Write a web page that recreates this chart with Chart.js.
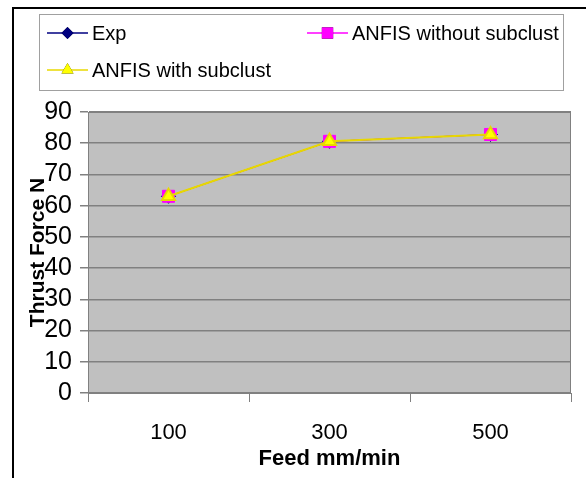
<!DOCTYPE html>
<html>
<head>
<meta charset="utf-8">
<script src="https://cdn.jsdelivr.net/npm/chart.js@4.4.0/dist/chart.umd.min.js"></script>
<style>
    html, body { margin: 0; padding: 0; background: #ffffff; }
    #wrap { width: 586px; height: 478px; position: relative; }
</style>
</head>
<body>
<div id="wrap"><canvas id="thrustChart"></canvas></div>
<script>
const feeds = ["100", "300", "500"];
const expValues = [63, 80.6, 82.8];
const anfisWithout = [63, 80.6, 82.8];
const anfisWith = [63, 80.6, 82.8];
const yTicks = [0, 10, 20, 30, 40, 50, 60, 70, 80, 90];

const FONT = "'Liberation Sans', Arial, sans-serif";

// Plot background, frame and the boxed legend
const framePlugin = {
    id: "frame",
    beforeDraw(chart) {
        const { ctx, chartArea: a } = chart;
        ctx.save();
        ctx.fillStyle = "#c0c0c0";
        ctx.fillRect(a.left, a.top, a.right - a.left, a.bottom - a.top);
        ctx.restore();
    },
    afterDraw(chart) {
        const { ctx, chartArea: a } = chart;
        ctx.save();
        ctx.strokeStyle = "#808080";
        ctx.lineWidth = 1;
        ctx.strokeRect(a.left + 0.5, a.top + 0.5, a.right - a.left - 1, a.bottom - a.top);

        // outer border
        ctx.strokeStyle = "#000000";
        ctx.lineWidth = 2;
        ctx.beginPath();
        ctx.moveTo(13, 480);
        ctx.lineTo(13, 8);
        ctx.lineTo(590, 8);
        ctx.stroke();

        // legend box
        ctx.strokeStyle = "#a0a0a0";
        ctx.lineWidth = 1;
        ctx.strokeRect(39.5, 14.5, 524, 76);

        const spots = [
            { x: 47, y: 33 },
            { x: 307, y: 33 },
            { x: 47, y: 70 }
        ];
        chart.data.datasets.forEach((ds, i) => {
            const s = spots[i];
            ctx.strokeStyle = ds.borderColor;
            ctx.lineWidth = 1.5;
            ctx.beginPath();
            ctx.moveTo(s.x, s.y);
            ctx.lineTo(s.x + 41, s.y);
            ctx.stroke();
            Chart.helpers.drawPoint(ctx, {
                pointStyle: ds.pointStyle,
                radius: ds.legendRadius,
                borderWidth: 0
            }, s.x + 20.5, s.y);
            ctx.fillStyle = ds.pointBackgroundColor;
            ctx.fill();
            ctx.fillStyle = "#000000";
            ctx.font = "20px " + FONT;
            ctx.textBaseline = "middle";
            ctx.fillText(ds.label, s.x + 45, s.y + 1);
        });
        ctx.restore();
    }
};

new Chart(document.getElementById("thrustChart"), {
    type: "line",
    data: {
        labels: feeds,
        datasets: [{
            label: "Exp",
            data: expValues,
            borderColor: "#000080",
            borderWidth: 1,
            pointBackgroundColor: "#000080",
            pointStyle: "rectRot",
            pointRadius: 7,
            legendRadius: 6,
            order: 3
        }, {
            label: "ANFIS without subclust",
            data: anfisWithout,
            borderColor: "#ff00ff",
            borderWidth: 1,
            pointBackgroundColor: "#ff00ff",
            pointStyle: "rect",
            pointRadius: 8.5,
            legendRadius: 8,
            order: 2
        }, {
            label: "ANFIS with subclust",
            data: anfisWith,
            borderColor: "#e8d800",
            borderWidth: 2,
            pointBackgroundColor: "#ffff00",
            pointStyle: "triangle",
            pointRadius: 7.5,
            legendRadius: 7,
            order: 1
        }]
    },
    options: {
        responsive: true,
        maintainAspectRatio: false,
        animation: false,
        layout: {
            padding: { top: 112, left: 14, right: 15, bottom: 6 }
        },
        elements: {
            line: { tension: 0 },
            point: { borderWidth: 0, hoverRadius: 8 }
        },
        plugins: {
            legend: { display: false },
            tooltip: { enabled: false }
        },
        scales: {
            x: {
                offset: true,
                grid: {
                    display: true,
                    drawOnChartArea: false,
                    offset: true,
                    tickLength: 9,
                    color: "#808080"
                },
                border: { color: "#808080" },
                ticks: {
                    color: "#000000",
                    padding: 18,
                    font: { family: FONT, size: 22 }
                },
                title: {
                    display: true,
                    text: "Feed mm/min",
                    color: "#000000",
                    padding: { top: 0, bottom: 0 },
                    font: { family: FONT, size: 22, weight: "bold" }
                },
                afterFit(scale) {
                    scale.height = 79;
                }
            },
            y: {
                min: 0,
                max: 90,
                afterBuildTicks(scale) {
                    scale.ticks = yTicks.map(v => ({ value: v }));
                },
                grid: {
                    color: "#808080",
                    tickLength: 8,
                    lineWidth: 1.5
                },
                border: { color: "#808080" },
                ticks: {
                    autoSkip: false,
                    color: "#000000",
                    padding: 8,
                    font: { family: FONT, size: 25 }
                },
                title: {
                    display: true,
                    text: "Thrust Force N",
                    color: "#000000",
                    padding: { top: 12, bottom: 0 },
                    font: { family: FONT, size: 21, weight: "bold" }
                },
                afterFit(scale) {
                    scale.width = 74;
                }
            }
        }
    },
    plugins: [framePlugin]
});
</script>
</body>
</html>
